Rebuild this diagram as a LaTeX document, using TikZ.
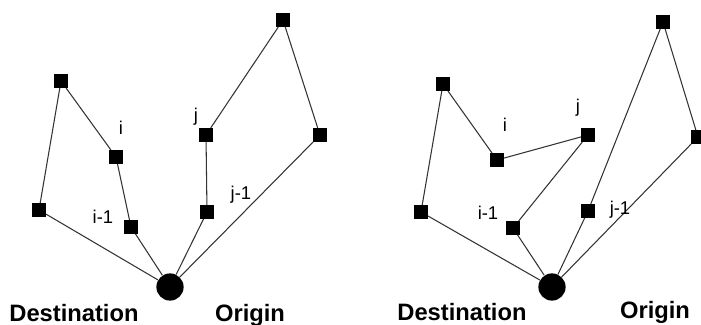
\documentclass[tikz,border=0pt]{standalone}
\usepackage{fontspec}
\setmainfont{Liberation Sans}
\usepackage{tikz}
\usetikzlibrary{positioning}

\begin{document}
\begin{tikzpicture}[
      x=0.02cm, y=-0.02cm,
      cust/.style={fill=black, rectangle, minimum size=7.6pt, inner sep=0pt},
      depot/.style={fill=black, circle, minimum size=15.5pt, inner sep=0pt},
      lbl/.style={font=\fontsize{10.5}{12}\selectfont, inner sep=0pt},
      captxt/.style={font=\fontsize{13.5}{16}\selectfont\bfseries, inner sep=0pt},
      link/.style={line width=0.6pt, black!80},
    ]
    \useasboundingbox (0,0) rectangle (701,325);
    \clip (0,0) rectangle (701,325);

    % left: two routes before the move
    \node[depot] (dL) at (170,287) {};
    \node[cust] (a1) at (61,81) {};
    \node[cust] (b1) at (116,157) {};
    \node[cust] (c1) at (131,227) {};
    \node[cust] (e1) at (39,210) {};
    \node[cust] (f1) at (206,135) {};
    \node[cust] (g1) at (207,212) {};
    \node[cust] (h1) at (283,20) {};
    \node[cust] (k1) at (320,135) {};

    \draw[link] (dL) -- (e1) -- (a1) -- (b1) -- (c1) -- (dL);
    \draw[link] (dL) -- (g1) -- (f1) -- (h1) -- (k1) -- (dL);

    \node[lbl] (i1) at (121,128) {i};
    \node[lbl] (im1) at (103,217) {i-1};
    \node[lbl] (j1) at (196,117) {j};
    \node[lbl] (jm1) at (241,195) {j-1};
    \node[captxt] (dest1) at (74,313) {Destination};
    \node[captxt] (orig1) at (250,315) {Origin};

    % right: two routes after the move
    \node[depot] (dR) at (552,287) {};
    \node[cust] (a2) at (443,84) {};
    \node[cust] (b2) at (497,160) {};
    \node[cust] (c2) at (513,228) {};
    \node[cust] (e2) at (421,212) {};
    \node[cust] (f2) at (588,135) {};
    \node[cust] (g2) at (588,211) {};
    \node[cust] (h2) at (663,22) {};
    \node[cust] (k2) at (698,137) {};

    \draw[link] (dR) -- (e2) -- (a2) -- (b2) -- (f2) -- (c2) -- (dR);
    \draw[link] (dR) -- (g2) -- (h2) -- (k2) -- (dR);

    \node[lbl] (i2) at (505,125) {i};
    \node[lbl] (im2) at (488,213) {i-1};
    \node[lbl] (j2) at (578,108) {j};
    \node[lbl] (jm2) at (620,210) {j-1};
    \node[captxt] (dest2) at (462,312) {Destination};
    \node[captxt] (orig2) at (655,312) {Origin};
  \end{tikzpicture}
\end{document}
